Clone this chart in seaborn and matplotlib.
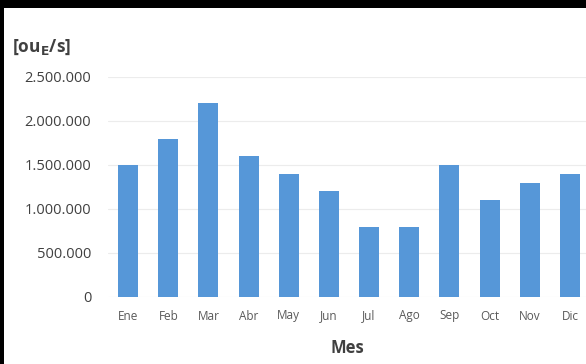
import matplotlib
matplotlib.use("Agg")
import matplotlib.pyplot as plt
import seaborn as sns
import pandas as pd
from matplotlib.ticker import FuncFormatter
from matplotlib.patches import Rectangle

meses = ["Ene", "Feb", "Mar", "Abr", "May", "Jun", "Jul", "Ago", "Sep", "Oct", "Nov", "Dic"]
valores = [1500000, 1800000, 2200000, 1600000, 1400000, 1200000, 800000, 800000,
           1500000, 1100000, 1300000, 1400000]
y_ticks = [0, 500000, 1000000, 1500000, 2000000, 2500000]

sns.set_style("white")
plt.rcParams["font.family"] = ["Open Sans", "DejaVu Sans"]

df = pd.DataFrame({"Mes": meses, "Valor": valores})

fig = plt.figure(figsize=(5.86, 3.64), dpi=100)
ax = fig.add_axes([108/586, 1-297/364, 1-108/586, (297-77)/364])
sns.barplot(data=df, x="Mes", y="Valor", color="#5697d8", saturation=1, width=0.5, ax=ax)
for p in ax.patches:
    p.set_edgecolor("none")

ax.set_ylim(0, 2500000)
ax.set_xlim(-0.5, 11.4)
ax.set_yticks(y_ticks)
ax.yaxis.set_major_formatter(FuncFormatter(lambda v, _: f"{int(v):,}".replace(",", ".")))
ax.grid(axis="y", color="#ececec", linewidth=0.8)
ax.set_axisbelow(True)
for s in ax.spines.values():
    s.set_visible(False)
ax.tick_params(axis="y", length=0, pad=12, labelsize=10.5, labelcolor="#404040")
ax.tick_params(axis="x", length=0, pad=9, labelsize=8.5, labelcolor="#595959")
ax.set_ylabel("")
ax.set_xlabel("Mes", fontsize=12, fontweight="bold", color="#404040", labelpad=12)

fig.text(12/586, 1-47/364, r"[ou$_\mathbf{E}$/s]", fontsize=12.5, fontweight="bold",
         color="#404040", va="center", ha="left")

# black border from the screenshot
fig.patches.append(Rectangle((0, 1-8/364), 1, 8/364, transform=fig.transFigure,
                             facecolor="black", edgecolor="none", zorder=10))
fig.patches.append(Rectangle((0, 0), 4/586, 1, transform=fig.transFigure,
                             facecolor="black", edgecolor="none", zorder=10))

fig.savefig("out.png", dpi=100)
